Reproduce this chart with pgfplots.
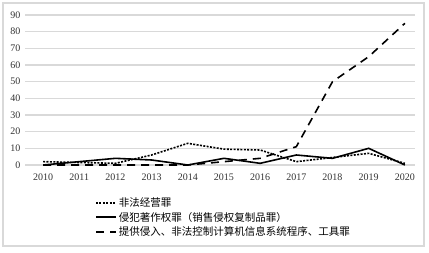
\documentclass[border=0pt]{standalone}
\usepackage{fontspec}
\setmainfont{Liberation Serif}
\newfontfamily\cjk{Noto Sans CJK SC}
\usepackage{pgfplots}
\pgfplotsset{compat=1.18}
\begin{document}
\begin{tikzpicture}[x=1pt,y=1pt]
\path (-25,-88) rectangle (404,165);
\draw[gray!30, line width=1.2pt] (-22,-81) rectangle (399,162);
\begin{axis}[
  scale only axis, width=390pt, height=150pt,
  at={(0,0)}, anchor=south west,
  xmin=2009.5, xmax=2020.28, ymin=0, ymax=90,
  xtick={2010,...,2020}, ytick={0,10,...,90},
  x tick label style={/pgf/number format/1000 sep={}, yshift=-5pt},
  y tick label style={xshift=-1pt},
  /pgf/number format/assume math mode=true,
  tick label style={font=\fontsize{10}{11}\selectfont, color=black!80},
  major tick length=0pt,
  axis line style={draw=none},
  ymajorgrids, grid style={gray!30, line width=1.4pt},
  clip=false,
  legend style={at={(0.172,-0.19)}, anchor=north west, draw=none, fill=none,
    font=\cjk\fontsize{10.5}{12}\selectfont, row sep=0pt, cells={anchor=west}},
  legend cell align=left,
  legend image code/.code={\draw[#1] (0pt,0pt) -- (20pt,0pt);},
]
\addplot[black, line width=1.6pt, dash pattern=on 2pt off 1.4pt] coordinates {
(2010,2) (2011,1.5) (2012,1) (2013,6) (2014,13) (2015,9.5) (2016,9) (2017,2) (2018,4.5) (2019,7) (2020,1)};
\addlegendentry{非法经营罪}
\addplot[black, line width=1.6pt] coordinates {
(2010,0) (2011,2) (2012,4) (2013,3) (2014,0) (2015,4) (2016,1) (2017,6) (2018,4) (2019,10) (2020,0)};
\addlegendentry{侵犯著作权罪（销售侵权复制品罪）}
\addplot[black, line width=1.6pt, dash pattern=on 8pt off 6pt] coordinates {
(2010,0) (2011,0) (2012,0) (2013,0) (2014,0) (2015,2) (2016,4) (2017,11) (2018,50) (2019,65) (2020,85)};
\addlegendentry{提供侵入、非法控制计算机信息系统程序、工具罪}
\end{axis}
\end{tikzpicture}
\end{document}
